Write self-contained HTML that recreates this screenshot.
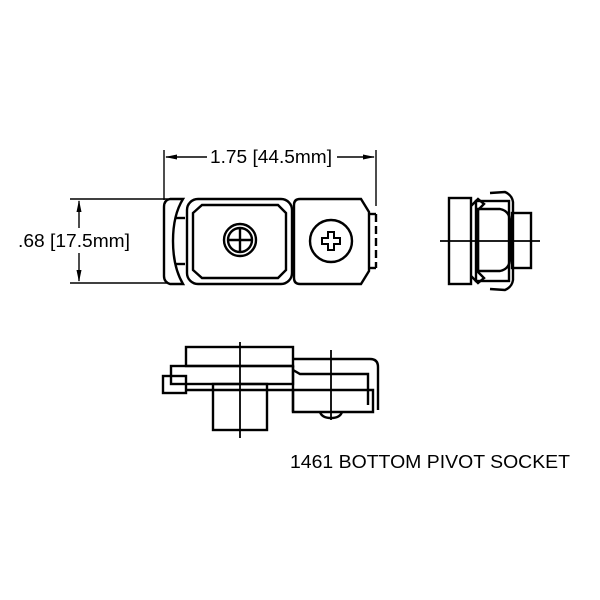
<!DOCTYPE html>
<html><head><style>body{margin:0;background:#fff}svg{display:block}</style></head><body>
<svg width="600" height="600" viewBox="0 0 600 600" xmlns="http://www.w3.org/2000/svg" font-family="Liberation Sans, Arial, sans-serif">
<g stroke="#000" fill="none" stroke-width="1.4">
<line x1="164" y1="150" x2="164" y2="200"/>
<line x1="376" y1="150" x2="376" y2="206"/>
<line x1="166" y1="157" x2="207" y2="157"/>
<line x1="337" y1="157" x2="374" y2="157"/>
<line x1="70" y1="199" x2="168" y2="199"/>
<line x1="70" y1="283" x2="168" y2="283"/>
<line x1="79" y1="201" x2="79" y2="228"/>
<line x1="79" y1="253" x2="79" y2="281"/>
</g>
<g fill="#000">
<polygon points="165,157 177,154.5 177,159.5"/>
<polygon points="375,157 363,154.5 363,159.5"/>
<polygon points="79,200 76.5,212 81.5,212"/>
<polygon points="79,282 76.5,270 81.5,270"/>
</g>
<text x="210" y="163" font-size="18" textLength="122" lengthAdjust="spacingAndGlyphs">1.75 [44.5mm]</text>
<text x="18" y="247" font-size="18" textLength="112" lengthAdjust="spacingAndGlyphs">.68 [17.5mm]</text>
<g stroke="#000" fill="none" stroke-width="2.4">
<path d="M170,199 L183,199 Q173,215 173,241 Q173,267 183,284 L170,284 Q164,282 164,276 L164,207 Q164,200 170,199 Z"/>
<line x1="175" y1="218" x2="185" y2="218"/>
<line x1="175" y1="264" x2="185" y2="264"/>
<rect x="187" y="199" width="105" height="85" rx="11"/>
<path d="M202,205 L278,205 L286,213 L286,270 L278,278 L202,278 L193,270 L193,213 Z"/>
<circle cx="240" cy="240" r="16"/>
<circle cx="240" cy="240" r="12"/>
<line x1="228" y1="240" x2="252" y2="240"/>
<line x1="240" y1="228" x2="240" y2="252"/>
<path d="M300,199 L361,199 L369,212 L369,271 L361,284 L300,284 Q294,284 294,278 L294,205 Q294,199 300,199 Z"/>
<line x1="370" y1="214" x2="376" y2="214"/>
<line x1="370" y1="268" x2="376" y2="268"/>
<line x1="376" y1="214" x2="376" y2="268" stroke-dasharray="8,4"/>
<circle cx="331" cy="241" r="21"/>
<path d="M328,232 h6 v6 h6 v6 h-6 v6 h-6 v-6 h-6 v-6 h6 z" stroke-width="2"/>
<rect x="449" y="198" width="22" height="86"/>
<path d="M471,206 L478,199 L484,204 L478,210 L478,272 L484,278 L478,283 L471,276"/>
<rect x="476" y="201" width="33" height="80"/>
<path d="M478,209 L500,209 Q510,211 510,222 L510,258 Q510,269 500,271 L478,271 Z"/>
<path d="M490,193 L505,192 Q512,195 513,202 L513,280 Q512,287 505,290 L490,289"/>
<rect x="512" y="213" width="19" height="55"/>
<line x1="440" y1="241" x2="540" y2="241" stroke-width="1.8"/>
<rect x="186" y="347" width="107" height="19"/>
<rect x="171" y="366" width="122" height="18"/>
<rect x="163" y="376" width="23" height="17"/>
<line x1="186" y1="390" x2="293" y2="390"/>
<rect x="213" y="384" width="54" height="46"/>
<line x1="240" y1="342" x2="240" y2="438" stroke-width="1.8"/>
<path d="M293,359 L370,359 Q378,359 378,367 L378,410"/>
<path d="M293,370 L300,374 L368,374 L368,405"/>
<path d="M293,390 L373,390 L373,412 L293,412 Z"/>
<line x1="293" y1="366" x2="293" y2="412"/>
<line x1="331" y1="350" x2="331" y2="420" stroke-width="1.8"/>
<path d="M320,412 Q322,418 331,418 Q340,418 342,412"/>
</g>
<text x="290" y="468" font-size="18.5" textLength="280" lengthAdjust="spacingAndGlyphs">1461 BOTTOM PIVOT SOCKET</text>
</svg>
</body></html>
